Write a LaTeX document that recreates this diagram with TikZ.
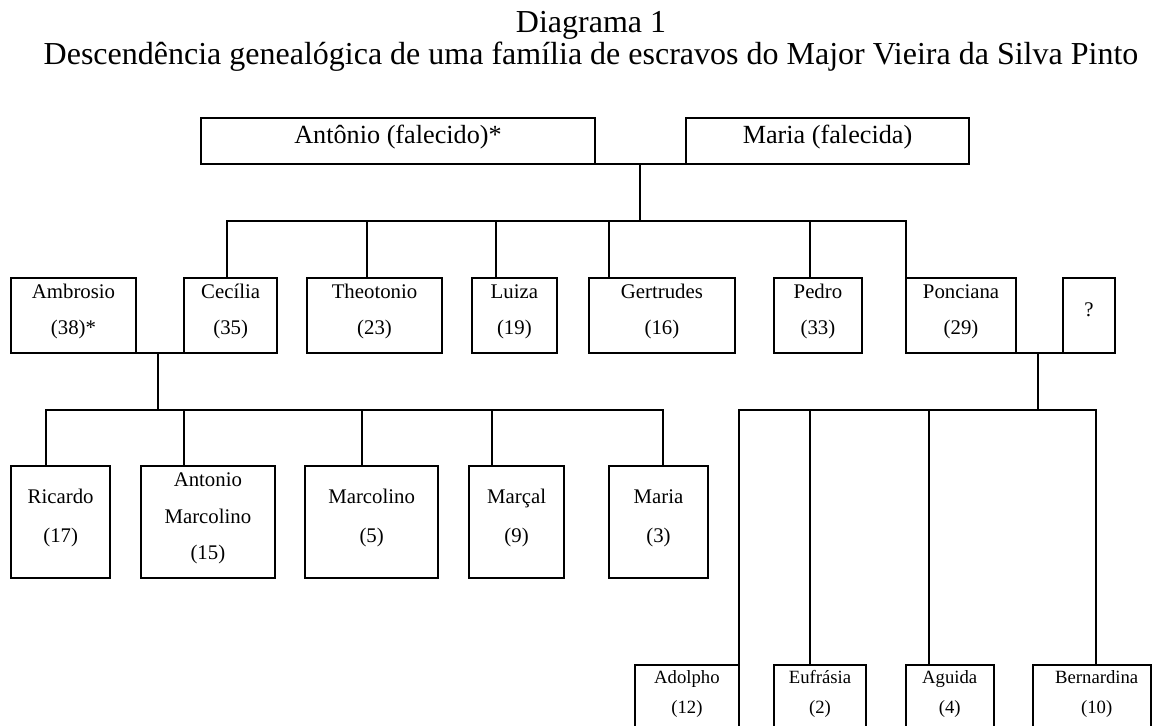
\documentclass[tikz,border=0pt]{standalone}
\usepackage{fontspec}
\setmainfont{Liberation Serif}
\usetikzlibrary{fit}
\tikzset{
  box/.style={draw=black, line width=2pt, inner sep=0pt, outer sep=0pt, rectangle},
  conn/.style={draw=black, line width=2pt, line cap=rect},
  lbltitle/.style={inner sep=0pt, anchor=base, font=\fontsize{32}{32}\selectfont},
  lbltop/.style={inner sep=0pt, anchor=base, font=\fontsize{26.2}{26.2}\selectfont},
  lblmid/.style={inner sep=0pt, anchor=base, font=\fontsize{20.8}{20.8}\selectfont},
  lblsmall/.style={inner sep=0pt, anchor=base, font=\fontsize{18.7}{18.7}\selectfont},
}
\newcommand\mkbox[5]{\node[box, fit={(#2,#3) (#4,#5)}] (#1) {};}
\begin{document}
\begin{tikzpicture}[x=1pt,y=-1pt]
\useasboundingbox (0,0) rectangle (1153,725);
\clip (0,0) rectangle (1153,725);
% title
\node[lbltitle] (title1) at (591,33) {Diagrama 1};
\node[lbltitle] (title2) at (591,64) {Descendência genealógica de uma família de escravos do Major Vieira da Silva Pinto};
% boxes
\mkbox{ant}{200.7}{118.3}{595.3}{164.3}
\mkbox{mar}{685.7}{118.3}{969.3}{164.3}
\mkbox{amb}{11}{278}{136}{352.5}
\mkbox{cec}{184}{278}{277.3}{352.5}
\mkbox{the}{307.3}{278}{441.7}{352.5}
\mkbox{lui}{471.7}{278}{557}{352.5}
\mkbox{ger}{588.7}{278}{735.1}{352.5}
\mkbox{ped}{773.7}{278}{862.2}{352.5}
\mkbox{pon}{906}{278}{1016.1}{352.5}
\mkbox{unk}{1063}{278}{1114.8}{352.5}
\mkbox{ric}{11}{466}{110.3}{578.3}
\mkbox{amc}{141}{466}{274.7}{578.3}
\mkbox{mcl}{305}{466}{438.3}{578.3}
\mkbox{mcc}{469.2}{466}{564}{578.3}
\mkbox{mra}{609}{466}{708}{578.3}
\mkbox{ado}{634.8}{665}{739}{760}
\mkbox{euf}{774}{665}{866}{760}
\mkbox{agu}{905.7}{665}{993.7}{760}
\mkbox{ber}{1033.3}{665}{1151}{760}
% texts
\node[lbltop] (ant-n) at (398,143.3) {Antônio (falecido)*};
\node[lbltop] (mar-n) at (827.5,143.3) {Maria (falecida)};
\foreach \nm/\a/\b in {amb/Ambrosio/(38)*, cec/Cecília/(35), the/Theotonio/(23), lui/Luiza/(19), ger/Gertrudes/(16), ped/Pedro/(33), pon/Ponciana/(29)}{
  \node[lblmid] (\nm-n) at (\nm.north |- 0,298) {\a};
  \node[lblmid] (\nm-a) at (\nm.north |- 0,334.8) {\b};
}
\node[lblmid] (unk-n) at (unk.north |- 0,316.5) {?};
\foreach \nm/\a/\b in {ric/Ricardo/(17), mcl/Marcolino/(5), mcc/Marçal/(9), mra/Maria/(3)}{
  \node[lblmid] (\nm-n) at (\nm.north |- 0,503.5) {\a};
  \node[lblmid] (\nm-a) at (\nm.north |- 0,542) {\b};
}
\node[lblmid] (amc-n1) at (amc.north |- 0,486.5) {Antonio};
\node[lblmid] (amc-n2) at (amc.north |- 0,523) {Marcolino};
\node[lblmid] (amc-a) at (amc.north |- 0,559.5) {(15)};
\foreach \nm/\a/\b in {ado/Adolpho/(12), euf/Eufrásia/(2), agu/Aguida/(4)}{
  \node[lblsmall] (\nm-n) at (\nm.north |- 0,683.3) {\a};
  \node[lblsmall] (\nm-a) at (\nm.north |- 0,713.4) {\b};
}
\node[lblsmall] (ber-n) at (1096.7,683.3) {Bernardina};
\node[lblsmall] (ber-a) at (1096.7,713.4) {(10)};
% junction coordinates
\coordinate (j0) at (640,164.3);
\coordinate (j1) at (640,220.7);
\coordinate (s1) at (226.7,220.7);
\coordinate (s2) at (366.7,220.7);
\coordinate (s3) at (496,220.7);
\coordinate (s4) at (608.7,220.7);
\coordinate (s5) at (810,220.7);
\coordinate (s6) at (906,220.7);
\coordinate (k0) at (157.7,352.5);
\coordinate (k1) at (157.7,410);
\coordinate (c1) at (45.7,410);
\coordinate (c2) at (184,410);
\coordinate (c3) at (362,410);
\coordinate (c4) at (492.2,410);
\coordinate (c5) at (663,410);
\coordinate (p0) at (1038,352.5);
\coordinate (p1) at (1038,410);
\coordinate (d1) at (739,410);
\coordinate (d2) at (810,410);
\coordinate (d3) at (929,410);
\coordinate (d4) at (1095.5,410);
% connectors
\draw[conn] (ant.south east) -- (mar.south west);
\draw[conn] (j0) -- (j1);
\draw[conn] (s1) -- (s6);
\draw[conn] (s1) -- (s1 |- cec.north);
\draw[conn] (s2) -- (s2 |- the.north);
\draw[conn] (s3) -- (s3 |- lui.north);
\draw[conn] (s4) -- (s4 |- ger.north);
\draw[conn] (s5) -- (s5 |- ped.north);
\draw[conn] (s6) -- (s6 |- pon.north);
\draw[conn] (amb.south east) -- (cec.south west);
\draw[conn] (k0) -- (k1);
\draw[conn] (c1) -- (c5);
\draw[conn] (c1) -- (c1 |- ric.north);
\draw[conn] (c2) -- (c2 |- amc.north);
\draw[conn] (c3) -- (c3 |- mcl.north);
\draw[conn] (c4) -- (c4 |- mcc.north);
\draw[conn] (c5) -- (c5 |- mra.north);
\draw[conn] (pon.south east) -- (unk.south west);
\draw[conn] (p0) -- (p1);
\draw[conn] (d1) -- (d4);
\draw[conn] (d1) -- (d1 |- ado.north);
\draw[conn] (d2) -- (d2 |- euf.north);
\draw[conn] (d3) -- (d3 |- agu.north);
\draw[conn] (d4) -- (d4 |- ber.north);
\end{tikzpicture}
\end{document}
